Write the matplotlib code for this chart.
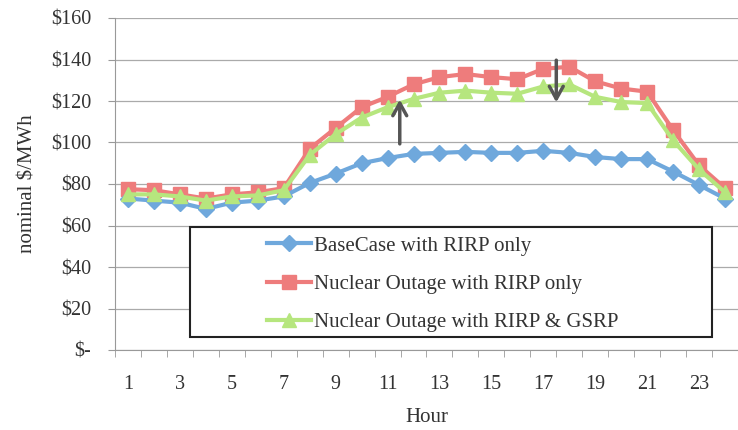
import numpy as np
import matplotlib
matplotlib.use("Agg")
import matplotlib.pyplot as plt
from matplotlib.patches import Rectangle

plt.rcParams['font.family'] = ['Liberation Serif', 'DejaVu Serif']

hours = list(range(1, 25))
base_case = [73, 72, 71, 68, 71, 72, 74, 80.5, 85, 90, 92.5, 94.5,
             95, 95.5, 95, 95, 96, 95, 93, 92, 92, 86, 79.5, 73]
nuclear_rirp = [77.5, 77, 75, 73, 75, 76, 78, 97, 107, 117, 122, 128,
                131.5, 133, 131.5, 130.5, 135.5, 136.5, 129.5, 126, 124.5, 106, 89, 78]
nuclear_gsrp = [75, 75, 74, 72, 74, 74.5, 77, 94, 104, 112, 117, 121,
                124, 125, 124, 123.5, 127, 128, 122, 119.5, 119, 101, 87, 76]
series_labels = ["BaseCase with RIRP only",
                 "Nuclear Outage with RIRP only",
                 "Nuclear Outage with RIRP & GSRP"]
y_ticks = [0, 20, 40, 60, 80, 100, 120, 140, 160]
y_tick_labels = ["$-", "$20", "$40", "$60", "$80", "$100", "$120", "$140", "$160"]
x_tick_hours = list(range(1, 24, 2))

# arrows: (hour, start value, end value)
arrows = [(11.47, 98, 122), (17.5, 141, 118)]

fig = plt.figure(figsize=(7.38, 4.3), dpi=100)
ax = fig.add_axes([115 / 738, 1 - 350 / 430, 1 - 115 / 738, (350 - 18) / 430])

ax.plot(hours, nuclear_rirp, color='#ee7c7c', lw=3, marker='s', ms=10,
        label=series_labels[1], zorder=3)
ax.plot(hours, nuclear_gsrp, color='#b6e67e', lw=3, marker='^', ms=10,
        label=series_labels[2], zorder=3.5)
ax.plot(hours, base_case, color='#6fa8dc', lw=3, marker='D', ms=8,
        label=series_labels[0], zorder=3.2)

for h, y0, y1 in arrows:
    ax.annotate('', xy=(h, y1), xytext=(h, y0),
                arrowprops=dict(arrowstyle='->,head_length=0.9,head_width=0.5',
                                color='#555555', lw=2.5), zorder=6)

ax.set_ylim(0, 160)
ax.set_xlim(0.5, 0.5 + 623 / 26.36)
ax.set_yticks(y_ticks)
ax.set_yticklabels(y_tick_labels)
ax.set_xticks(x_tick_hours)
ax.set_xticks(np.arange(0.5, 25, 1), minor=True)
ax.tick_params(axis='x', which='major', length=0, pad=18, labelsize=14.5, colors='#333333')
ax.tick_params(axis='x', which='minor', length=5, direction='out', color='#999999')
ax.tick_params(axis='y', length=5, pad=12, labelsize=14.5, colors='#999999', labelcolor='#333333')
ax.grid(axis='y', color='#aaaaaa', lw=0.9)
ax.set_axisbelow(True)
for side in ['top', 'right']:
    ax.spines[side].set_visible(False)
for side in ['left', 'bottom']:
    ax.spines[side].set_color('#999999')

ax.set_xlabel('Hour', fontsize=15, color='#333333', labelpad=10)
ax.set_ylabel('nominal $/MWh', fontsize=15, color='#333333', labelpad=10)

# legend box
ax.add_patch(Rectangle((75 / 623, 13 / 332), 522 / 623, 110 / 332,
                       transform=ax.transAxes, facecolor='white',
                       edgecolor='#222222', lw=1.5, zorder=4))
handles, labels = ax.get_legend_handles_labels()
order = [2, 0, 1]
leg = ax.legend([handles[i] for i in order], [labels[i] for i in order],
                loc='upper left', bbox_to_anchor=(0.244, 0.343), frameon=False,
                fontsize=15, labelspacing=0.9, handlelength=2.1,
                handletextpad=0.15, borderpad=0, borderaxespad=0)
leg.set_zorder(5)
for t in leg.get_texts():
    t.set_color('#333333')

fig.savefig('out.png', dpi=100)
